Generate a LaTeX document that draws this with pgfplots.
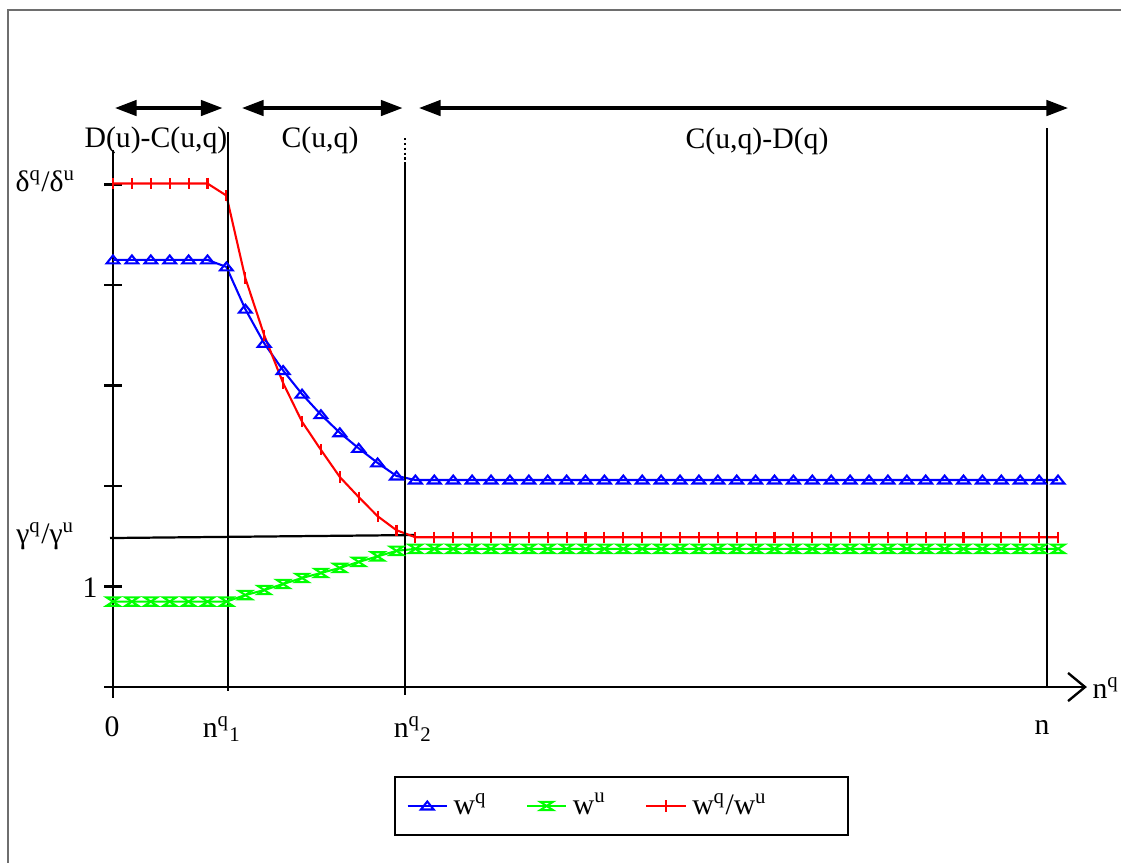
\documentclass[border=0pt]{standalone}
\usepackage{fontspec}
\setmainfont{Liberation Serif}
\usepackage{pgfplots}
\pgfplotsset{compat=1.18}
\usepackage{pgfplotstable}
\usetikzlibrary{arrows.meta}

\definecolor{xlblue}{RGB}{0,0,255}
\definecolor{xlgreen}{RGB}{0,255,0}
\definecolor{xlred}{RGB}{255,0,0}
\definecolor{framegray}{RGB}{110,110,110}

\pgfdeclareplotmark{ftri}{%
  \pgfpathmoveto{\pgfqpoint{-\pgfplotmarksize}{-0.55\pgfplotmarksize}}%
  \pgfpathlineto{\pgfqpoint{\pgfplotmarksize}{-0.55\pgfplotmarksize}}%
  \pgfpathlineto{\pgfqpoint{0pt}{0.7\pgfplotmarksize}}%
  \pgfpathclose\pgfusepathqstroke}
\pgfdeclareplotmark{hglass}{%
  \pgfpathmoveto{\pgfqpoint{-\pgfplotmarksize}{0.65\pgfplotmarksize}}%
  \pgfpathlineto{\pgfqpoint{\pgfplotmarksize}{0.65\pgfplotmarksize}}%
  \pgfpathlineto{\pgfqpoint{-\pgfplotmarksize}{-0.65\pgfplotmarksize}}%
  \pgfpathlineto{\pgfqpoint{\pgfplotmarksize}{-0.65\pgfplotmarksize}}%
  \pgfpathclose\pgfusepathqstroke}

\newcommand\PX[1]{(#1-113)/18.9}
\newcommand\PY[1]{(687-#1)/100.5}

\pgfplotstableread{
x wq wu r
0 4.25 0.85 5.01
1 4.25 0.85 5.01
2 4.25 0.85 5.01
3 4.25 0.85 5.01
4 4.25 0.85 5.01
5 4.25 0.85 5.01
6 4.18 0.85 4.89
7 3.76 0.915 4.07
8 3.42 0.965 3.50
9 3.15 1.025 3.025
10 2.915 1.085 2.64
11 2.71 1.135 2.36
12 2.53 1.185 2.09
13 2.375 1.245 1.89
14 2.23 1.30 1.70
15 2.10 1.355 1.56
16 2.06 1.375 1.49
17 2.06 1.375 1.49
18 2.06 1.375 1.49
19 2.06 1.375 1.49
20 2.06 1.375 1.49
21 2.06 1.375 1.49
22 2.06 1.375 1.49
23 2.06 1.375 1.49
24 2.06 1.375 1.49
25 2.06 1.375 1.49
26 2.06 1.375 1.49
27 2.06 1.375 1.49
28 2.06 1.375 1.49
29 2.06 1.375 1.49
30 2.06 1.375 1.49
31 2.06 1.375 1.49
32 2.06 1.375 1.49
33 2.06 1.375 1.49
34 2.06 1.375 1.49
35 2.06 1.375 1.49
36 2.06 1.375 1.49
37 2.06 1.375 1.49
38 2.06 1.375 1.49
39 2.06 1.375 1.49
40 2.06 1.375 1.49
41 2.06 1.375 1.49
42 2.06 1.375 1.49
43 2.06 1.375 1.49
44 2.06 1.375 1.49
45 2.06 1.375 1.49
46 2.06 1.375 1.49
47 2.06 1.375 1.49
48 2.06 1.375 1.49
49 2.06 1.375 1.49
50 2.06 1.375 1.49
}\datatab

\begin{document}
\fontsize{10.7}{12.8}\selectfont
\begin{tikzpicture}
\begin{axis}[
  scale only axis, width=403.56pt, height=310.32pt,
  xmin=-5.979, xmax=53.333, ymin=-1.741, ymax=6.836,
  hide axis, clip=false,
  legend columns=3,
  legend style={at={(0.5544,0.0650)}, anchor=center, draw=black, line width=0.7pt,
    inner xsep=4pt, inner ysep=4pt},
  legend image code/.code={\draw[mark repeat=2,mark phase=2,#1] plot coordinates {(0cm,0cm)(0.25cm,0cm)(0.5cm,0cm)};},
]
\coordinate (BBL) at (rel axis cs:0,0);
\coordinate (BTR) at (rel axis cs:1,1);
% outer frame (left and top edges visible)
\draw[framegray, line width=0.7pt] (axis cs:{\PX{8}},{\PY{870}}) -- (axis cs:{\PX{8}},{\PY{10}}) -- (axis cs:{\PX{1130}},{\PY{10}});
% axes
\draw[line width=0.85pt] (axis cs:0,{\PY{150}}) -- (axis cs:0,{\PY{698}});
\draw[line width=0.85pt] (axis cs:{\PX{104}},0) -- (axis cs:51.43,0);
\draw[line width=0.85pt] (axis cs:50.53,0.14) -- (axis cs:51.43,0) -- (axis cs:50.53,-0.14);
\pgfplotsinvokeforeach{0,1,2,3,4,5}{
  \draw[line width=0.85pt] (axis cs:{\PX{104}},#1) -- (axis cs:{\PX{122}},#1);
}
\draw[line width=0.8pt] (axis cs:{\PX{110}},{\PY{538}}) -- (axis cs:{\PX{415}},{\PY{535}});

\addplot[xlblue, line width=0.75pt, mark=ftri, mark size=2.3pt, mark options={solid}] table[x=x,y=wq] {\datatab};
\addlegendentry{w\textsuperscript{q}\rule{12pt}{0pt}}
\addplot[xlgreen, line width=0.75pt, mark=hglass, mark size=2.3pt, mark options={solid}] table[x=x,y=wu] {\datatab};
\addlegendentry{w\textsuperscript{u}\rule{12pt}{0pt}}
\addplot[xlred, line width=0.75pt, mark=|, mark size=2pt, mark options={solid}] table[x=x,y=r] {\datatab};
\addlegendentry{w\textsuperscript{q}/w\textsuperscript{u}\rule{23pt}{0pt}}

% vertical lines
\draw[line width=0.75pt] (axis cs:6.08,{\PY{132}}) -- (axis cs:6.08,{\PY{691}});
\draw[line width=0.75pt] (axis cs:15.45,{\PY{162}}) -- (axis cs:15.45,{\PY{695}});
\draw[line width=0.75pt, densely dotted] (axis cs:15.45,{\PY{138}}) -- (axis cs:15.45,{\PY{160}});
\draw[line width=0.75pt] (axis cs:49.42,{\PY{128}}) -- (axis cs:49.42,{\PY{687}});

% top arrows
\draw[{Triangle[length=7.8pt,width=5.6pt]}-{Triangle[length=7.8pt,width=5.6pt]}, line width=1.1pt]
  (axis cs:{\PX{115}},{\PY{108}}) -- (axis cs:{\PX{222.5}},{\PY{108}});
\draw[{Triangle[length=7.8pt,width=5.6pt]}-{Triangle[length=7.8pt,width=5.6pt]}, line width=1.1pt]
  (axis cs:{\PX{242}},{\PY{108}}) -- (axis cs:{\PX{402.5}},{\PY{108}});
\draw[{Triangle[length=7.8pt,width=5.6pt]}-{Triangle[length=7.8pt,width=5.6pt]}, line width=1.1pt]
  (axis cs:{\PX{419}},{\PY{108}}) -- (axis cs:{\PX{1068}},{\PY{108}});

% region labels
\node at (axis cs:{\PX{156}},{\PY{140}}) {D(u)-C(u,q)};
\node at (axis cs:{\PX{320}},{\PY{140}}) {C(u,q)};
\node at (axis cs:{\PX{757}},{\PY{141}}) {C(u,q)-D(q)};

% y labels
\node[anchor=east, inner sep=0pt] at (axis cs:{\PX{76}},{\PY{181}}) {δ\textsuperscript{q}/δ\textsuperscript{u}};
\node[anchor=east, inner sep=0pt] at (axis cs:{\PX{75}},{\PY{536}}) {γ\textsuperscript{q}/γ\textsuperscript{u}};
\node[anchor=east, inner sep=0pt] at (axis cs:{\PX{98}},{\PY{588}}) {1};

% x labels
\node at (axis cs:{\PX{112}},{\PY{727}}) {0};
\node at (axis cs:{\PX{222}},{\PY{729}}) {n\textsuperscript{q}\textsubscript{1}};
\node at (axis cs:{\PX{413}},{\PY{729}}) {n\textsuperscript{q}\textsubscript{2}};
\node at (axis cs:{\PX{1042}},{\PY{727}}) {n};
\node[anchor=west, inner sep=0pt] at (axis cs:{\PX{1092}},{\PY{688}}) {n\textsuperscript{q}};
\end{axis}
\pgfresetboundingbox
\useasboundingbox (BBL) rectangle (BTR);
\end{tikzpicture}
\end{document}
